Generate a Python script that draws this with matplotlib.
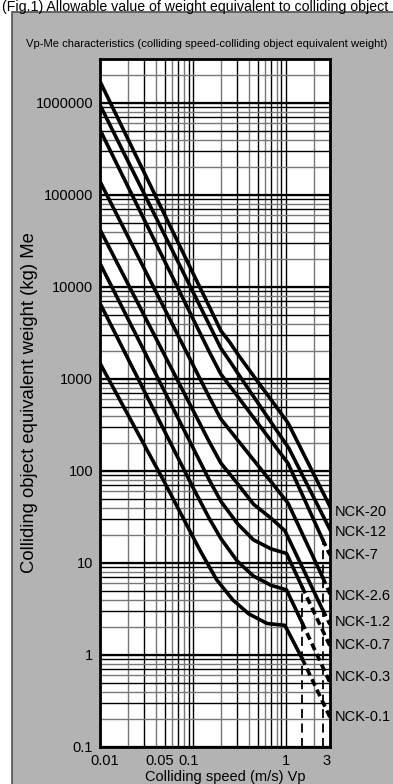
import numpy as np
import matplotlib
matplotlib.use('Agg')
import matplotlib.pyplot as plt
import matplotlib.transforms as mtransforms
from matplotlib.patches import Rectangle

# ---------------- data ----------------
models = ['NCK-20', 'NCK-12', 'NCK-7', 'NCK-2.6', 'NCK-1.2', 'NCK-0.7', 'NCK-0.3', 'NCK-0.1']

# solid parts of each curve: speed Vp (m/s), equivalent weight Me (kg)
v_nck20 = [0.01, 0.1, 0.15, 0.2, 0.25, 0.3, 0.45, 0.7, 1.064, 3.0]
m_nck20 = [1.71e6, 1.42e4, 6150, 3350, 2500, 1900, 1080, 590, 330, 41]
v_nck12 = [0.01, 0.1, 0.15, 0.2, 0.25, 0.3, 0.45, 0.7, 1.08, 3.0]
m_nck12 = [9.5e5, 8870, 3890, 2160, 1560, 1180, 646, 335, 177, 23]
v_nck7 = [0.01, 0.1, 0.15, 0.2, 0.25, 0.3, 0.45, 0.7, 1.06, 2.5]
m_nck7 = [5.1e5, 4545, 1980, 1130, 838, 656, 381, 211, 121, 18]
v_nck26 = [0.01, 0.1, 0.15, 0.2, 0.25, 0.3, 0.45, 0.7, 1.06, 2.5]
m_nck26 = [1.4e5, 1430, 638, 368, 277, 220, 132, 75.7, 44.6, 7.0]
v_nck12s = [0.01, 0.1, 0.15, 0.2, 0.3, 0.45, 0.7, 0.98, 2.5]
m_nck12s = [4.2e4, 460, 208, 122, 73.8, 43.5, 30.5, 22.4, 3.1]
v_nck07 = [0.01, 0.1, 0.15, 0.2, 0.3, 0.45, 0.7, 1.02, 1.5]
m_nck07 = [1.8e4, 180, 80, 47, 27, 17.8, 14.2, 12.7, 5.5]
v_nck03 = [0.01, 0.1, 0.15, 0.2, 0.3, 0.45, 0.7, 1.02, 1.5]
m_nck03 = [6650, 66.5, 30.5, 18.5, 10.5, 7.2, 5.7, 5.1, 2.25]
v_nck01 = [0.01, 0.048, 0.119, 0.18, 0.27, 0.4, 0.63, 0.98, 1.5]
m_nck01 = [1480, 80, 13.8, 6.6, 3.96, 2.8, 2.2, 2.1, 0.92]

# dashed continuations beyond the rated speed
dv_nck7 = [2.5, 3.0]; dm_nck7 = [18, 12.2]
dv_nck26 = [2.5, 3.0]; dm_nck26 = [7.0, 4.6]
dv_nck12s = [2.5, 3.0]; dm_nck12s = [3.1, 2.15]
dv_nck07 = [1.5, 3.0]; dm_nck07 = [5.5, 1.25]
dv_nck03 = [1.5, 3.0]; dm_nck03 = [2.25, 0.5]
dv_nck01 = [1.5, 3.0]; dm_nck01 = [0.92, 0.21]

solid_v = [v_nck20, v_nck12, v_nck7, v_nck26, v_nck12s, v_nck07, v_nck03, v_nck01]
solid_m = [m_nck20, m_nck12, m_nck7, m_nck26, m_nck12s, m_nck07, m_nck03, m_nck01]
dash_v = [dv_nck7, dv_nck26, dv_nck12s, dv_nck07, dv_nck03, dv_nck01]
dash_m = [dm_nck7, dm_nck26, dm_nck12s, dm_nck07, dm_nck03, dm_nck01]

# rated speed limits (dashed verticals) and the weight they reach up to
limit_v = [1.5, 2.5]
limit_m = [5.5, 18]

# weights at which the model names sit at the right side
label_m = [36, 21.9, 12.2, 4.4, 2.3, 1.3, 0.58, 0.21]

xticks = [0.01, 0.05, 0.1, 1, 3]
xticklabels = ['0.01', '0.05', '0.1', '1', '3']
yticks = [0.1, 1, 10, 100, 1000, 10000, 100000, 1000000]
yticklabels = ['0.1', '1', '10', '100', '1000', '10000', '100000', '1000000']

# ---------------- figure ----------------
plt.rcParams['font.family'] = ['Liberation Sans', 'DejaVu Sans']

W, H = 393, 784
fig = plt.figure(figsize=(W / 100, H / 100), dpi=100)
fig.patch.set_facecolor('white')


def fx(px):
    return px / W


def fy(py):
    return 1 - py / H


fig.add_artist(Rectangle((fx(12), -0.1), 1.2, fy(12) + 0.1, transform=fig.transFigure,
                         facecolor='#b3b3b3', edgecolor='#505050', lw=1.2, zorder=-5))

cap = fig.text(fx(2), fy(7), '(Fig.1) Allowable value of weight equivalent to colliding object',
               fontsize=9.5, ha='left', va='center', color='black')
ttl = fig.text(fx(207), fy(44), 'Vp-Me characteristics (colliding speed-colliding object equivalent weight)',
               fontsize=8.6, ha='center', va='center', color='black')

renderer = fig.canvas.get_renderer()


def fit_width(t, target_px):
    for _ in range(4):
        w = t.get_window_extent(renderer=renderer).width
        t.set_fontsize(t.get_fontsize() * target_px / w)


fit_width(cap, 388)
fit_width(ttl, 362)

ax = fig.add_axes([fx(100), fy(747), fx(330) - fx(100), fy(59) - fy(747)])
ax.set_facecolor('white')
ax.set_xscale('log')
ax.set_yscale('log')
ax.set_xlim(0.01, 3)
ax.set_ylim(0.1, 3e6)

# grid
for dec in [0.01, 0.1, 1]:
    for k in range(1, 10):
        x = dec * k
        if x > 3:
            continue
        col = 'black' if k in (1, 3, 5, 7, 9) else '#777777'
        ax.axvline(x, color=col, lw=1.0, zorder=1)
for dec in [0.1, 1, 10, 100, 1000, 1e4, 1e5, 1e6]:
    for k in range(1, 10):
        y = dec * k
        if y > 3e6:
            continue
        col = 'black' if k in (1, 3, 5, 7, 9) else '#777777'
        ax.axhline(y, color=col, lw=1.0, zorder=1)
        if k == 1:
            ax.axhline(y * 1.03, color='black', lw=0.9, zorder=1)

for sv, sm in zip(solid_v, solid_m):
    ax.plot(sv, sm, color='black', lw=2.6, solid_joinstyle='round', zorder=3)
for dv, dm in zip(dash_v, dash_m):
    ax.plot(dv, dm, color='black', lw=2.6, ls=(0, (2.0, 1.2)), zorder=3)
for lv, lm in zip(limit_v, limit_m):
    ax.plot([lv, lv], [0.1, lm], color='black', lw=1.3, ls=(0, (5, 3)), zorder=3)

trans = mtransforms.blended_transform_factory(ax.transAxes, ax.transData)
for name, lm in zip(models, label_m):
    ax.text(1.02, lm, name, transform=trans, fontsize=10.5, ha='left', va='center', clip_on=False)

for s in ax.spines.values():
    s.set_linewidth(2.0)
    s.set_color('black')
    s.set_zorder(5)

ax.set_xticks(xticks)
ax.set_xticklabels(xticklabels)
ax.set_yticks(yticks)
ax.set_yticklabels(yticklabels)
ax.minorticks_off()
ax.tick_params(length=0, labelsize=10.5, pad=5)

# small horizontal nudges of the x tick labels as in the reference
nudges = [5, -5, -4, 0, -3]
for lab, dx in zip(ax.get_xticklabels(), nudges):
    lab.set_transform(lab.get_transform() + mtransforms.ScaledTranslation(dx / 100, 0, fig.dpi_scale_trans))

ax.set_xlabel('Colliding speed (m/s) Vp', fontsize=10.5)
ax.xaxis.set_label_coords((225 - 100) / 230, -(777 - 747) / 688)
ax.xaxis.label.set_va('center')
ax.set_ylabel('Colliding object equivalent weight (kg) Me', fontsize=13.3)
ax.yaxis.set_label_coords((30 - 100) / 230, 0.5)
ax.yaxis.label.set_va('center')

fig.savefig('out.png', dpi=100, facecolor='white')
